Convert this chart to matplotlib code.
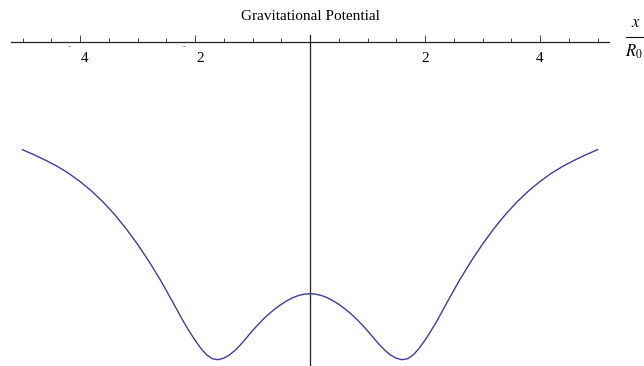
import numpy as np
import matplotlib
matplotlib.use("Agg")
import matplotlib.pyplot as plt
from matplotlib.lines import Line2D
from matplotlib.ticker import FixedLocator
from matplotlib.transforms import ScaledTranslation

plt.rcParams['font.family'] = ['Liberation Serif', 'DejaVu Serif']
plt.rcParams['mathtext.fontset'] = 'stix'

# potential along the axis, x in units of R0
x_vals = [-5.0, -4.8, -4.6, -4.4, -4.2, -4.0, -3.8, -3.6, -3.4, -3.2,
          -3.0, -2.8, -2.6, -2.4, -2.2, -2.1, -2.0, -1.9, -1.8, -1.7,
          -1.6, -1.5, -1.4, -1.3, -1.2, -1.1, -1.0, -0.9, -0.8, -0.7,
          -0.6, -0.5, -0.4, -0.3, -0.2, -0.1, 0.0,
          0.1, 0.2, 0.3, 0.4, 0.5, 0.6, 0.7, 0.8, 0.9, 1.0,
          1.1, 1.2, 1.3, 1.4, 1.5, 1.6, 1.7, 1.8, 1.9, 2.0,
          2.1, 2.2, 2.4, 2.6, 2.8, 3.0, 3.2, 3.4, 3.6, 3.8,
          4.0, 4.2, 4.4, 4.6, 4.8, 5.0]
v_vals = [-1.08, -1.13, -1.185, -1.245, -1.315, -1.398, -1.493, -1.602, -1.727, -1.868,
          -2.025, -2.197, -2.385, -2.59, -2.80, -2.895, -2.985, -3.065, -3.13, -3.17,
          -3.18, -3.165, -3.133, -3.085, -3.025, -2.958, -2.89, -2.827, -2.768, -2.715,
          -2.668, -2.626, -2.59, -2.56, -2.538, -2.525, -2.52,
          -2.525, -2.538, -2.56, -2.59, -2.626, -2.668, -2.715, -2.768, -2.827, -2.89,
          -2.958, -3.025, -3.085, -3.133, -3.165, -3.18, -3.17, -3.13, -3.065, -2.985,
          -2.895, -2.80, -2.59, -2.385, -2.197, -2.025, -1.868, -1.727, -1.602, -1.493,
          -1.398, -1.315, -1.245, -1.185, -1.13, -1.08]

major_ticks = [-4, -2, 2, 4]
minor_ticks = [-5, -4.5, -3.5, -3, -2.5, -1.5, -1, -0.5,
               0.5, 1, 1.5, 2.5, 3, 3.5, 4.5, 5]

W, H, DPI = 644, 366, 100
fig = plt.figure(figsize=(W / DPI, H / DPI), dpi=DPI)
ax = fig.add_axes([0, 0, 1, 1])
ax.patch.set_visible(False)

# 57.5 px per unit in x, 100 px per unit in v; origin at (310, 41.7)
ax.set_xlim(-310 / 57.5, (W - 310) / 57.5)
ax.set_ylim(-(H - 41.7) / 100, 41.7 / 100)

ax.plot(x_vals, v_vals, color='#3d3d99', lw=1.0, zorder=3)

for s in ['top', 'right']:
    ax.spines[s].set_visible(False)
ax.spines['bottom'].set_position(('data', 0))
ax.spines['bottom'].set_bounds(-5.2, 5.2)
ax.spines['left'].set_position(('data', 0))
ax.spines['left'].set_bounds(ax.get_ylim()[0], 0.067)
for s in ['bottom', 'left']:
    ax.spines[s].set_linewidth(0.9)
    ax.spines[s].set_color('#222222')

ax.set_yticks([])
ax.xaxis.set_major_locator(FixedLocator(major_ticks))
ax.xaxis.set_minor_locator(FixedLocator(minor_ticks))
ax.set_xticklabels([str(abs(t)) for t in major_ticks])
ax.tick_params(axis='x', which='major', direction='in', length=5.2, width=0.6,
               pad=7.5, labelsize=11, color='#222222')
ax.tick_params(axis='x', which='minor', direction='in', length=3, width=0.6,
               color='#222222')

shift = ScaledTranslation(5 / DPI, 0, fig.dpi_scale_trans)
for lab, t in zip(ax.get_xticklabels(), major_ticks):
    if t < 0:
        lab.set_transform(lab.get_transform() + shift)
        ax.annotate('-', xy=(t, 0), xytext=(-11, -5.5), textcoords='offset pixels',
                    ha='center', va='center', fontsize=6, color='#444444')

fig.text(310 / W, 1 - 17 / H, 'Gravitational Potential', ha='center', va='center',
         fontsize=11)

# axis label x / R0, drawn as a stacked fraction
fig.text(636 / W, 1 - 23 / H, r'$x$', ha='center', va='center', fontsize=12)
fig.add_artist(Line2D([626 / W, 1.0], [1 - 37.3 / H, 1 - 37.3 / H],
                      transform=fig.transFigure, color='#111111', lw=0.8))
fig.text(625 / W, 1 - 52 / H, r'$R_0$', ha='left', va='center', fontsize=12)

fig.savefig('out.png', dpi=DPI)
